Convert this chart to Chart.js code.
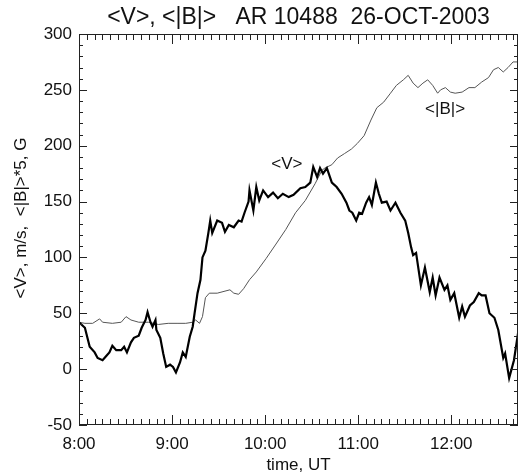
<!DOCTYPE html>
<html>
<head>
<meta charset="utf-8">
<script src="https://cdn.jsdelivr.net/npm/chart.js@4.4.0/dist/chart.umd.min.js"></script>
<style>
html, body { margin: 0; padding: 0; background: #fff; }
</style>
</head>
<body>
<canvas id="chart" width="527" height="476"></canvas>
<script>
// time axis is minutes after 8:00 UT
const hourLabels = ['8:00', '9:00', '10:00', '11:00', '12:00'];

// <V>, m/s
const vTimes = [0, 3.8, 6.9, 10.1, 12, 15.2, 17.7, 19.6, 21.5, 24, 27.2, 29.1, 30.9, 33.5, 35.4, 38.5, 40.4, 42.9, 44.2, 46.1,
  47.4, 49.3, 49.9, 52.4, 54.3, 56.2, 58.7, 60.6, 62.5, 65.1, 66.9, 68.8, 71.4, 73.3, 74.5, 76.4, 78.3, 79.6, 81.5, 83.4,
  84.6, 85.9, 89.1, 92.2, 94.1, 96.6, 99.8, 102.9, 104.8, 106.7, 109.3, 109.9, 112.4, 114.3, 116.2, 118.7, 121.9, 125.1, 128.2, 131.4,
  135.2, 138.3, 142.7, 145.9, 149.1, 151, 153.5, 155.4, 157.3, 159.8, 163, 166.1, 169.3, 172.4, 174.3, 176.2, 178.7, 180.6, 182.5, 185.1,
  187, 188.8, 191.4, 193.3, 195.2, 198.3, 200.8, 204, 207.2, 210.3, 212.2, 214.1, 215.4, 217.3, 220.4, 223, 226.1, 228, 229.9, 232.4,
  235.6, 237.5, 239.4, 241.9, 245.1, 247, 248.8, 252, 254.5, 257.7, 259.6, 262.1, 264.6, 267.8, 270.3, 273.5, 274.7, 277.3, 280.4, 283];
const vValues = [42, 37, 20, 15, 10, 8, 12, 15, 21, 17, 17, 20, 15, 24, 28, 30, 37, 44, 51, 42,
  38, 44, 35, 28, 14, 2, 4, 2, -3, 6, 15, 11, 29, 38, 50, 68, 80, 100, 106, 122,
  133, 122, 133, 131, 123, 129, 127, 133, 132, 140, 150, 160, 142, 163, 151, 160, 154, 158, 153, 157,
  154, 156, 162, 163, 167, 181, 172, 180, 175, 180, 167, 163, 157, 149, 142, 140, 133, 140, 139, 149,
  154, 147, 167, 157, 149, 150, 142, 149, 140, 133, 122, 109, 102, 104, 75, 91, 69, 82, 66, 82,
  71, 75, 62, 68, 46, 56, 47, 57, 60, 68, 66, 66, 50, 46, 35, 10, 14, -8, 8, 32];

// <|B|>*5, G
const bTimes = [0, 3.8, 8.8, 13.3, 15.2, 21.5, 27.2, 30.3, 33.5, 38.5, 44.8, 51.2, 57.5, 63.8, 68.8, 73.3, 75.2, 77.7, 79.6, 81.5,
  84, 89.1, 97.3, 99.8, 102.9, 106.1, 109.9, 114.3, 120.6, 127, 133.3, 139.6, 145.9, 152.2, 156.6, 158.5, 163, 166.7, 171.2, 175.6,
  179.4, 183.8, 188.2, 192, 196.4, 200.8, 204.6, 209.1, 212.2, 215.4, 218.5, 221.7, 224.8, 228, 231.2, 233.1, 236.2, 239.4, 242.5, 247,
  251.4, 255.2, 259.6, 264, 267.2, 270.3, 273.5, 276.6, 279.8, 283];
const bValues = [42, 41, 41, 45, 42, 41, 42, 47, 44, 42, 42, 40, 41, 41, 41, 42, 44, 41, 47, 64,
  68, 68, 71, 68, 67, 72, 80, 87, 99, 112, 125, 140, 151, 166, 178, 180, 183, 189, 193, 197,
  202, 209, 223, 234, 239, 247, 254, 259, 263, 256, 252, 256, 259, 254, 247, 250, 252, 248, 247, 248,
  252, 252, 257, 261, 268, 270, 266, 270, 275, 275];

const vLabelAt = [134, 183];
const bLabelAt = [236, 233];
const yTitle = '<V>, m/s,  <|B|>*5, G';
const FONT = '"Liberation Sans", Arial, Helvetica, sans-serif';

function toPoints(times, values) {
  return times.map((t, i) => ({ x: t, y: values[i] }));
}

// IDL-style frame: closed box with inward ticks on all four sides, plus curve labels
const frame = {
  id: 'frame',
  afterDraw(chart) {
    const { ctx, chartArea: a, scales: { x, y } } = chart;
    ctx.save();
    ctx.strokeStyle = '#222';
    ctx.lineWidth = 1;
    ctx.strokeRect(a.left + 0.5, a.top + 0.5, a.right - a.left - 1, a.bottom - a.top - 1);
    ctx.beginPath();
    for (let m = 0; m <= x.max; m += 5) {
      const px = Math.round(x.getPixelForValue(m)) + 0.5;
      const len = m % 60 === 0 ? 10 : 6;
      ctx.moveTo(px, a.bottom); ctx.lineTo(px, a.bottom - len);
      ctx.moveTo(px, a.top); ctx.lineTo(px, a.top + len);
    }
    for (let v = y.min; v <= y.max; v += 10) {
      const py = Math.round(y.getPixelForValue(v)) + 0.5;
      const len = v % 50 === 0 ? 8 : 4;
      ctx.moveTo(a.left, py); ctx.lineTo(a.left + len, py);
      ctx.moveTo(a.right, py); ctx.lineTo(a.right - len, py);
    }
    ctx.stroke();

    ctx.fillStyle = '#111';
    ctx.font = '17px ' + FONT;
    ctx.textAlign = 'center';
    ctx.textBaseline = 'middle';
    ctx.fillText('<V>', x.getPixelForValue(vLabelAt[0]), y.getPixelForValue(vLabelAt[1]));
    ctx.fillText('<|B|>', x.getPixelForValue(bLabelAt[0]), y.getPixelForValue(bLabelAt[1]));

    ctx.translate(21, 218);
    ctx.rotate(-Math.PI / 2);
    ctx.fillText(yTitle, 0, 0);
    ctx.restore();
  }
};

new Chart(document.getElementById('chart'), {
  type: 'line',
  data: {
    datasets: [
      {
        label: '<V>',
        data: toPoints(vTimes, vValues),
        borderColor: '#000',
        borderWidth: 2.2,
        pointRadius: 0,
        tension: 0,
        fill: false
      },
      {
        label: '<|B|>',
        data: toPoints(bTimes, bValues),
        borderColor: '#555',
        borderWidth: 1,
        pointRadius: 0,
        tension: 0,
        fill: false
      }
    ]
  },
  options: {
    responsive: false,
    animation: false,
    layout: { padding: { right: 1 } },
    plugins: {
      legend: { display: false },
      tooltip: { enabled: false },
      title: {
        display: true,
        fullSize: false,
        text: '<V>, <|B|>   AR 10488  26-OCT-2003',
        color: '#111',
        font: { family: FONT, size: 23, weight: 'normal' },
        padding: { top: 4, bottom: 2.4 }
      }
    },
    scales: {
      x: {
        type: 'linear',
        min: 0,
        max: 283,
        afterFit(scale) { scale.height = 51; },
        grid: { drawOnChartArea: false, drawTicks: false },
        border: { display: false },
        ticks: {
          stepSize: 60,
          autoSkip: false,
          maxRotation: 0,
          padding: 9,
          color: '#111',
          font: { family: FONT, size: 17 },
          callback: (v) => (v % 60 === 0 ? hourLabels[v / 60] : '')
        },
        title: {
          display: true,
          text: 'time, UT',
          color: '#111',
          font: { family: FONT, size: 17 },
          padding: { top: 0, bottom: 0 }
        }
      },
      y: {
        min: -50,
        max: 300,
        afterFit(scale) { scale.width = 79; },
        grid: { drawOnChartArea: false, drawTicks: false },
        border: { display: false },
        ticks: {
          stepSize: 50,
          padding: 7,
          color: '#111',
          font: { family: FONT, size: 17 }
        }
      }
    }
  },
  plugins: [frame]
});
</script>
</body>
</html>
